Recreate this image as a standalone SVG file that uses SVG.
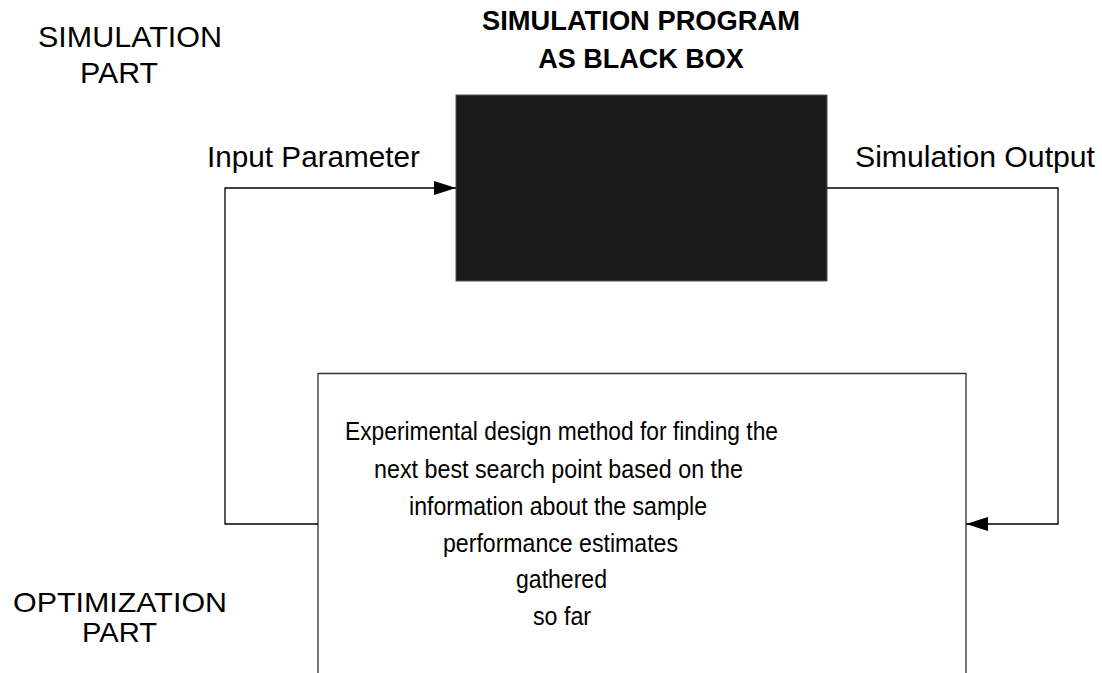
<svg xmlns="http://www.w3.org/2000/svg" width="1102" height="673" viewBox="0 0 1102 673">
  <style>
    .lbl { font-family: "Liberation Sans", Arial, sans-serif; font-size: 30px; fill: #000; }
    .lbl-sm { font-family: "Liberation Sans", Arial, sans-serif; font-size: 28px; fill: #000; }
    .title { font-family: "Liberation Sans", Arial, sans-serif; font-size: 27px; font-weight: bold; fill: #000; text-anchor: middle; }
    .body { font-family: "Liberation Sans", Arial, sans-serif; font-size: 26px; fill: #000; }
    .wire { fill: none; stroke: #000; stroke-width: 1.3; }
  </style>
  <defs>
    <marker id="arrowBig" viewBox="0 0 22 14" refX="22" refY="7" markerWidth="22" markerHeight="14" markerUnits="userSpaceOnUse" orient="auto">
      <path d="M0,0 L22,7 L0,14 z" fill="#000"/>
    </marker>
  </defs>

  <g id="section-labels">
    <text class="lbl" x="38" y="47" textLength="184" lengthAdjust="spacingAndGlyphs">SIMULATION</text>
    <text class="lbl" x="80" y="83" textLength="78" lengthAdjust="spacingAndGlyphs">PART</text>
    <text class="lbl-sm" x="13" y="612" textLength="214" lengthAdjust="spacingAndGlyphs">OPTIMIZATION</text>
    <text class="lbl-sm" x="82" y="642" textLength="75" lengthAdjust="spacingAndGlyphs">PART</text>
  </g>

  <g id="black-box">
    <text class="title" x="641" y="30" textLength="318" lengthAdjust="spacingAndGlyphs">SIMULATION PROGRAM</text>
    <text class="title" x="641" y="68">AS BLACK BOX</text>
    <rect x="456" y="95" width="371" height="186" fill="#1a1a1a" stroke="#555" stroke-width="1"/>
  </g>

  <g id="optimizer">
    <path d="M318,673 V373.5 H966 V673" fill="#fff" stroke="#333" stroke-width="1.3"/>
    <text class="body" x="345" y="440" textLength="433" lengthAdjust="spacingAndGlyphs">Experimental design method for finding the</text>
    <text class="body" x="374" y="478" textLength="369" lengthAdjust="spacingAndGlyphs">next best search point based on the</text>
    <text class="body" x="409" y="515" textLength="298" lengthAdjust="spacingAndGlyphs">information about the sample</text>
    <text class="body" x="443" y="552" textLength="235" lengthAdjust="spacingAndGlyphs">performance estimates</text>
    <text class="body" x="516" y="588" textLength="91" lengthAdjust="spacingAndGlyphs">gathered</text>
    <text class="body" x="533" y="625" textLength="58" lengthAdjust="spacingAndGlyphs">so far</text>
  </g>

  <g id="connectors">
    <path class="wire" d="M318,524 H225 V188 H456" marker-end="url(#arrowBig)"/>
    <path class="wire" d="M827,188 H1058 V524 H966" marker-end="url(#arrowBig)"/>
    <text class="lbl" x="207" y="167" textLength="213" lengthAdjust="spacingAndGlyphs">Input Parameter</text>
    <text class="lbl" x="855" y="167" textLength="240" lengthAdjust="spacingAndGlyphs">Simulation Output</text>
  </g>
</svg>
